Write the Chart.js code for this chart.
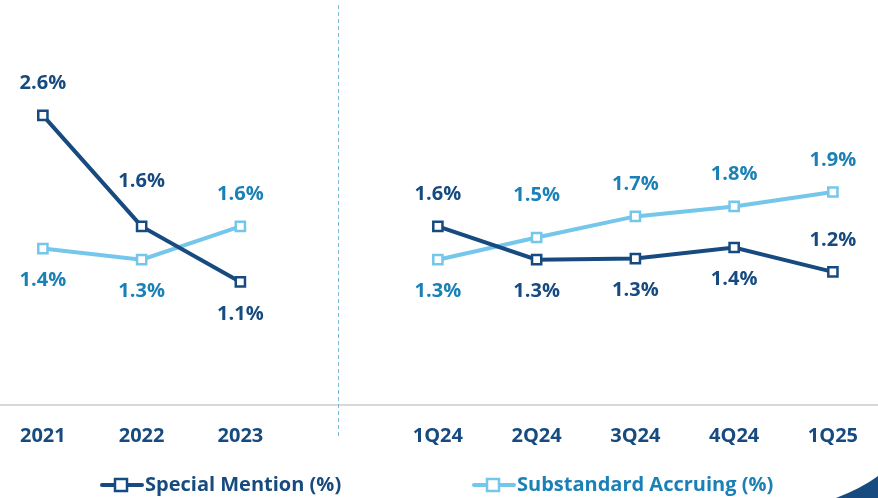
<!DOCTYPE html>
<html>
<head>
<meta charset="utf-8">
<script src="https://cdn.jsdelivr.net/npm/chart.js@4/dist/chart.umd.min.js"></script>
<style>
  html, body { margin: 0; padding: 0; background: #fff; }
  #wrap { position: relative; width: 878px; height: 498px; }
</style>
</head>
<body>
<div id="wrap"><canvas id="chart" width="878" height="498"></canvas></div>
<script>
// periods (the empty slot holds the divider between annual and quarterly)
var periods = ['2021', '2022', '2023', '', '1Q24', '2Q24', '3Q24', '4Q24', '1Q25'];
var specialMention = [2.6, 1.6, 1.1, null, 1.6, 1.3, 1.31, 1.41, 1.19];
var substandardAccruing = [1.4, 1.3, 1.6, null, 1.3, 1.5, 1.69, 1.78, 1.91];
var seriesNames = ['Special Mention (%)', 'Substandard Accruing (%)'];

var DARK = '#174b80';
var LIGHT = '#74c6ea';
var LIGHT_TEXT = '#1b80b6';
var FONT = '"Open Sans", sans-serif';

// label above (-1) or below (+1) each point
var labelSide = [
    [-1, -1, 1, 0, -1, 1, 1, 1, -1],
    [1, 1, -1, 0, 1, -1, -1, -1, -1]
];

var valueLabels = {
    id: 'valueLabels',
    afterDatasetsDraw: function(chart) {
        var ctx = chart.ctx;
        ctx.save();
        ctx.font = 'bold 20px ' + FONT;
        ctx.textAlign = 'center';
        ctx.textBaseline = 'middle';
        chart.data.datasets.forEach(function(ds, d) {
            var meta = chart.getDatasetMeta(d);
            ctx.fillStyle = d === 0 ? DARK : LIGHT_TEXT;
            ds.data.forEach(function(v, i) {
                if (v === null) return;
                var pt = meta.data[i];
                var off = labelSide[d][i] * 32;
                if (d === 0 && i === 1) off = -45;
                if (d === 1 && i === 5) off = -42;
                ctx.fillText(v.toFixed(1) + '%', pt.x, pt.y + off);
            });
        });
        ctx.restore();
    }
};

var extras = {
    id: 'extras',
    beforeDatasetsDraw: function(chart) {
        var ctx = chart.ctx;
        var x = Math.round(chart.scales.x.getPixelForValue(3)) - 0.5;
        var base = chart.chartArea.bottom;
        ctx.save();
        // baseline across the whole width
        ctx.strokeStyle = '#d9d9d9';
        ctx.lineWidth = 2;
        ctx.beginPath();
        ctx.moveTo(0, base + 1);
        ctx.lineTo(878, base + 1);
        ctx.stroke();
        // divider
        ctx.strokeStyle = '#7db9d6';
        ctx.lineWidth = 1;
        ctx.setLineDash([4, 3]);
        ctx.beginPath();
        ctx.moveTo(x, 5);
        ctx.lineTo(x, 437);
        ctx.stroke();
        ctx.restore();
    },
    afterDraw: function(chart) {
        var ctx = chart.ctx;
        ctx.save();
        // legend
        var items = [
            { x: 100, color: DARK, text: DARK },
            { x: 472, color: LIGHT, text: LIGHT_TEXT }
        ];
        var y = 485;
        items.forEach(function(it, k) {
            ctx.strokeStyle = it.color;
            ctx.lineWidth = 4;
            ctx.lineCap = 'round';
            ctx.beginPath();
            ctx.moveTo(it.x + 2, y);
            ctx.lineTo(it.x + 42, y);
            ctx.stroke();
            ctx.fillStyle = '#fff';
            ctx.lineWidth = 2.5;
            ctx.fillRect(it.x + 15, y - 6, 12, 12);
            ctx.strokeRect(it.x + 15, y - 6, 12, 12);
            ctx.fillStyle = it.text;
            ctx.font = 'bold 20px ' + FONT;
            ctx.textAlign = 'left';
            ctx.textBaseline = 'middle';
            ctx.fillText(seriesNames[k], it.x + 45, y);
        });
        // corner accent
        ctx.fillStyle = DARK;
        ctx.beginPath();
        ctx.moveTo(836, 498);
        ctx.quadraticCurveTo(862, 488, 878, 476);
        ctx.lineTo(878, 498);
        ctx.closePath();
        ctx.fill();
        ctx.restore();
    }
};

new Chart(document.getElementById('chart'), {
    type: 'line',
    data: {
        labels: periods,
        datasets: [{
            label: seriesNames[0],
            data: specialMention,
            borderColor: DARK,
            borderWidth: 4,
            pointStyle: 'rect',
            pointRadius: 6.5,
            pointBorderWidth: 2.5,
            pointBackgroundColor: '#fff',
            pointBorderColor: DARK,
            spanGaps: false
        }, {
            label: seriesNames[1],
            data: substandardAccruing,
            borderColor: LIGHT,
            borderWidth: 4,
            pointStyle: 'rect',
            pointRadius: 6.5,
            pointBorderWidth: 2.5,
            pointBackgroundColor: '#fff',
            pointBorderColor: LIGHT,
            spanGaps: false
        }]
    },
    options: {
        responsive: false,
        animation: false,
        layout: { padding: { top: 71, left: 3, right: 4, bottom: 30 } },
        plugins: {
            legend: { display: false },
            tooltip: { enabled: false }
        },
        scales: {
            x: {
                grid: { display: false, drawTicks: false },
                border: { display: false },
                ticks: {
                    color: DARK,
                    font: { family: FONT, size: 20, weight: 'bold' },
                    padding: 20,
                    maxRotation: 0,
                    autoSkip: false
                }
            },
            y: {
                display: false,
                min: 0,
                max: 3
            }
        }
    },
    plugins: [valueLabels, extras]
});
</script>
</body>
</html>
